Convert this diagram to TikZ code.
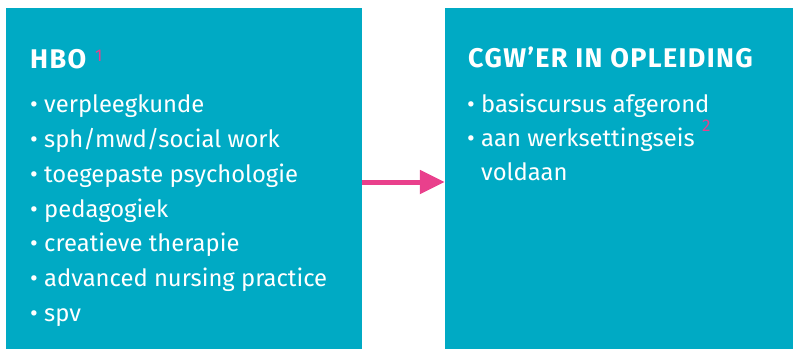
\documentclass[tikz,border=0pt]{standalone}
\usepackage{fontspec}
\setmainfont{Fira Sans}
\usetikzlibrary{positioning,arrows.meta,calc}

\definecolor{teal}{RGB}{0,170,196}
\definecolor{roze}{RGB}{233,64,140}

\begin{document}
\begin{tikzpicture}[x=1pt,y=-1pt,
  panel/.style={fill=teal, draw=none, inner sep=0pt},
  head/.style={anchor=base west, inner sep=0pt, text=white, font=\fontsize{27}{30}\selectfont\bfseries\addfontfeature{LetterSpace=5}},
  item/.style={anchor=base west, inner sep=0pt, text=white, font=\fontsize{23.8}{27}\selectfont},
  noot/.style={anchor=base west, inner sep=0pt, text=roze, font=\fontsize{17}{19}\selectfont},
  link/.style={draw=roze, line width=5pt, -{Triangle[length=25pt,width=23pt]}}]
\useasboundingbox (0,0) rectangle (795,349);

\node[panel, minimum width=356pt, minimum height=341pt] (hbo) at (184,178.5) {};
\node[panel, minimum width=348pt, minimum height=341pt] (cgw) at (619,178.5) {};

\draw[link] ($(hbo.east)+(0,3.5)$) -- ($(cgw.west)+(0,3.5)$);

\node[head] (hbokop) at (30,68) {HBO};
\node[noot] (noot1) at (95,61) {1};
\node[item] (i1) at (30,112) {\textbullet\ verpleegkunde};
\node[item] (i2) at (30,147) {\textbullet\ sph/mwd/social work};
\node[item] (i3) at (30,182) {\textbullet\ toegepaste psychologie};
\node[item] (i4) at (30,217) {\textbullet\ pedagogiek};
\node[item] (i5) at (30,251) {\textbullet\ creatieve therapie};
\node[item] (i6) at (30,286) {\textbullet\ advanced nursing practice};
\node[item] (i7) at (30,321) {\textbullet\ spv};

\node[head] (cgwkop) at (468,67) {CGW’ER IN OPLEIDING};
\node[item] (j1) at (467,112) {\textbullet\ basiscursus afgerond};
\node[item] (j2) at (467,146) {\textbullet\ aan werksettingseis};
\node[noot] (noot2) at (702,131) {2};
\node[item] (j3) at (481,180) {voldaan};

\end{tikzpicture}
\end{document}
